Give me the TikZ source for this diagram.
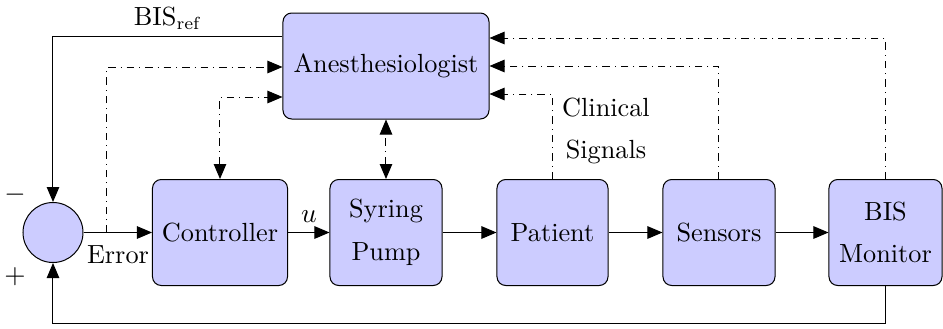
\documentclass[tikz,border=0pt]{standalone}
\usetikzlibrary{arrows.meta}
\begin{document}
\begin{tikzpicture}[x=0.4pt,y=-0.4pt,
  every node/.style={font=\fontsize{10.5}{17}\selectfont},
  block/.style={draw, fill=blue!20, rounded corners=3.5pt, minimum height=42.4pt,
    align=center, inner sep=0pt},
  tip/.tip={Triangle[length=6pt,width=5pt]},
  arr/.style={-tip},
  twoway/.style={tip-tip},
  dd/.style={dashdotted},
  line width=0.4pt]
\useasboundingbox (0,0) rectangle (943,328);

% summing junction and forward path
\node[circle, draw, fill=blue!20, minimum size=24pt, inner sep=0pt] (sum) at (53,232.5) {};
\node[block, minimum width=54pt]   (ctrl) at (220,232.5)   {Controller};
\node[block, minimum width=44.8pt] (pump) at (386,232.5)   {Syring\\Pump};
\node[block, minimum width=44.4pt] (pat)  at (552.5,232.5) {Patient};
\node[block, minimum width=44.8pt] (sens) at (719,232.5)   {Sensors};
\node[block, minimum width=45.2pt] (bis)  at (885.5,232.5) {BIS\\Monitor};
\node[block, minimum width=82.4pt] (anes) at (386,66)      {Anesthesiologist};

\draw[arr] (sum) -- (ctrl);
\draw[arr] (ctrl) -- (pump);
\draw[arr] (pump) -- (pat);
\draw[arr] (pat) -- (sens);
\draw[arr] (sens) -- (bis);

% labels
\node (err)  at (118,255) {Error};
\node (ulab) at (309,217) {$u$};
\node (minus) at (15,195) {$-$};
\node (plus)  at (15,277) {$+$};
\node (bisref) at (168,18) {BIS$_{\mathrm{ref}}$};
\node[align=center] (clin) at (606,131) {Clinical\\Signals};

% measured BIS feedback
\coordinate (fb) at (53,323);
\draw[arr] (bis.south) |- (fb) -- (sum.south);

% reference set by the anesthesiologist
\coordinate (ref) at (53,36);
\draw[arr] (anes.west |- ref) -- (ref) -- (sum.north);

% information flow to and from the anesthesiologist
\coordinate (tap) at (107,232.5);
\coordinate (l1) at (107,67);
\draw[dd, arr] (tap) -- (l1) -- (anes.west |- l1);
\coordinate (l2) at (220,97);
\draw[dd, twoway] (ctrl.north) -- (l2) -- (anes.west |- l2);
\draw[dd, twoway] (pump.north) -- (anes.south);
\coordinate (r1) at (552.5,94);
\draw[dd, arr] (pat.north) -- (r1) -- (anes.east |- r1);
\coordinate (r2) at (719,66);
\draw[dd, arr] (sens.north) -- (r2) -- (anes.east |- r2);
\coordinate (r3) at (885.5,38);
\draw[dd, arr] (bis.north) -- (r3) -- (anes.east |- r3);
\end{tikzpicture}
\end{document}
